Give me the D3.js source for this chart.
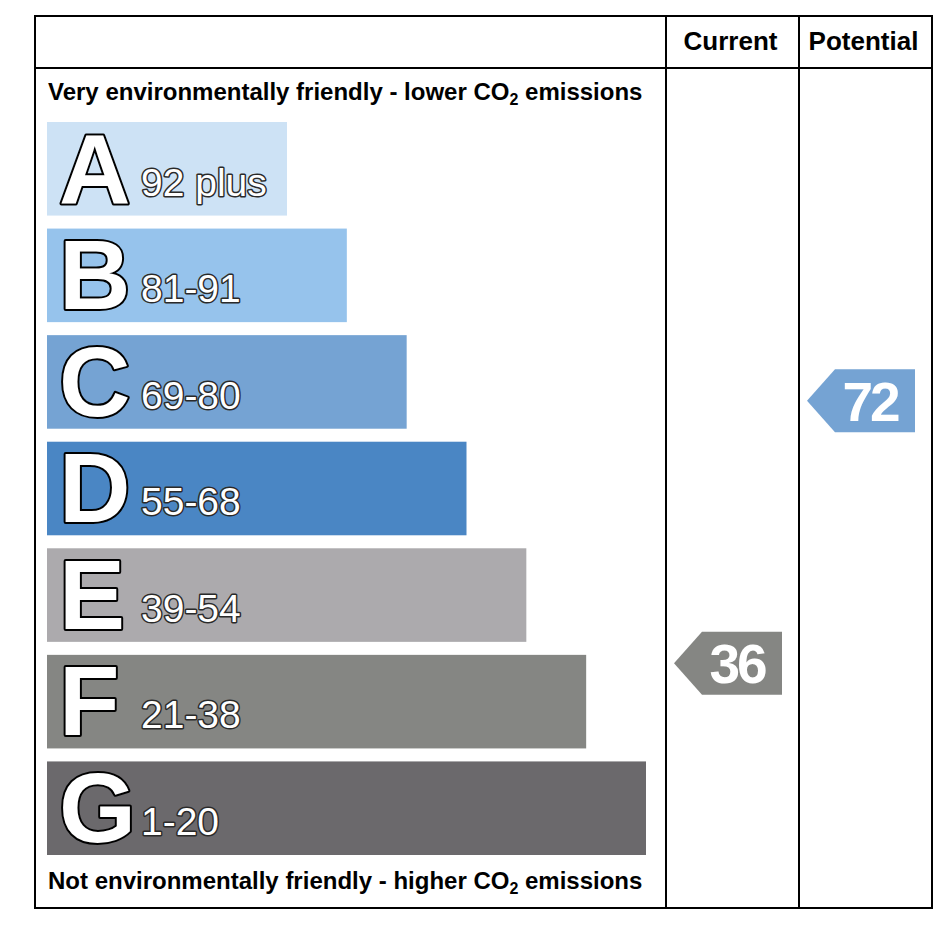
<!DOCTYPE html>
<html><head><meta charset="utf-8">
<script src="https://cdn.jsdelivr.net/npm/d3@7/dist/d3.min.js"></script>
<style>html,body{margin:0;padding:0;background:#fff;} svg{display:block;font-family:"Liberation Sans",Arial,sans-serif;}</style>
</head><body>
<div id="chart"></div>
<script>
// ---- data ----
const bands = ["A","B","C","D","E","F","G"];
const rangeLabels = ["92 plus","81-91","69-80","55-68","39-54","21-38","1-20"];
const bandMin = [92,81,69,55,39,21,1];
const bandMax = [100,91,80,68,54,38,20];
const bandColors = ["#cde2f5","#96c3ec","#75a3d3","#4a86c4","#acaaad","#858683","#6b696c"];
const columns = ["Current","Potential"];
const ratings = [36,72];
const topText = ["Very environmentally friendly - lower CO","2"," emissions"];
const bottomText = ["Not environmentally friendly - higher CO","2"," emissions"];

// ---- layout ----
const W = 946, H = 926;
const box = {x0:35, y0:16, x1:932, y1:908, head:68, col1:666, col2:799};
const svg = d3.select("#chart").append("svg").attr("width",W).attr("height",H);

const y = d3.scaleBand().domain(bands).range([122,855]).paddingInner(0.122).paddingOuter(0);
const barLen = d3.scaleLinear().domain([0,bands.length-1]).range([240,599]);
const x0 = 47;

const bandIndex = v => bandMin.findIndex((m,i)=> v>=m && v<=bandMax[i]);
const colX = d3.scaleOrdinal().domain(columns).range([[box.col1,box.col2],[box.col2,box.x1]]);

// bars
const g = svg.append("g");
bands.forEach((b,i)=>{
  const yy = y(b), bh = y.bandwidth();
  g.append("rect").attr("x",x0).attr("y",yy).attr("width",barLen(i)).attr("height",bh).attr("fill",bandColors[i]);
  g.append("text").attr("x",59).attr("y",yy+bh-13).text(b)
    .attr("font-size",99).attr("font-weight","bold").attr("fill","#fff")
    .attr("stroke","#000").attr("stroke-width",4).attr("paint-order","stroke").attr("stroke-linejoin","round");
  g.append("text").attr("x",141).attr("y",yy+bh-20).text(rangeLabels[i])
    .attr("font-size",39).attr("font-weight","normal").attr("fill","#fff")
    .attr("stroke","#2a2a2a").attr("stroke-width",3).attr("paint-order","stroke").attr("stroke-linejoin","round");
});

// descriptive texts
function subText(parts, yy){
  const t = svg.append("text").attr("x",48).attr("y",yy).attr("font-size",24).attr("font-weight","bold").attr("fill","#000");
  t.append("tspan").text(parts[0]);
  t.append("tspan").text(parts[1]).attr("font-size",16).attr("dy",5);
  t.append("tspan").text(parts[2]).attr("dy",-5);
}
subText(topText,100);
subText(bottomText,889);

// frame
const fr = svg.append("g").attr("stroke","#000").attr("stroke-width",2).attr("fill","none");
fr.append("rect").attr("x",box.x0).attr("y",box.y0).attr("width",box.x1-box.x0).attr("height",box.y1-box.y0);
fr.append("line").attr("x1",box.x0).attr("x2",box.x1).attr("y1",box.head).attr("y2",box.head);
fr.append("line").attr("x1",box.col1).attr("x2",box.col1).attr("y1",box.y0).attr("y2",box.y1);
fr.append("line").attr("x1",box.col2).attr("x2",box.col2).attr("y1",box.y0).attr("y2",box.y1);

// column headers
columns.forEach(c=>{
  const [a,b] = colX(c);
  svg.append("text").attr("x",(a+b)/2 - 2).attr("y",50).attr("text-anchor","middle")
    .attr("font-size",26).attr("font-weight","bold").text(c);
});

// rating arrows
columns.forEach((c,k)=>{
  const v = ratings[k];
  const bi = bandIndex(v);
  const inBand = d3.scaleLinear().domain([bandMax[bi],bandMin[bi]]).range([y(bands[bi]), y(bands[bi])+y.bandwidth()]);
  const cy = inBand(v) - 2.5;
  const [a,b] = colX(c);
  const ah = 63, tip = a+8, right = b-17, neck = tip+28;
  const path = d3.path();
  path.moveTo(tip,cy); path.lineTo(neck,cy-ah/2); path.lineTo(right,cy-ah/2);
  path.lineTo(right,cy+ah/2); path.lineTo(neck,cy+ah/2); path.closePath();
  svg.append("path").attr("d",path.toString()).attr("fill",bandColors[bi]);
  svg.append("text").attr("x",(neck+right)/2 - 5).attr("y",cy+20).attr("text-anchor","middle")
    .attr("font-size",55).attr("font-weight","bold").attr("fill","#fff").attr("letter-spacing",-3).text(v);
});
</script>
</body></html>
